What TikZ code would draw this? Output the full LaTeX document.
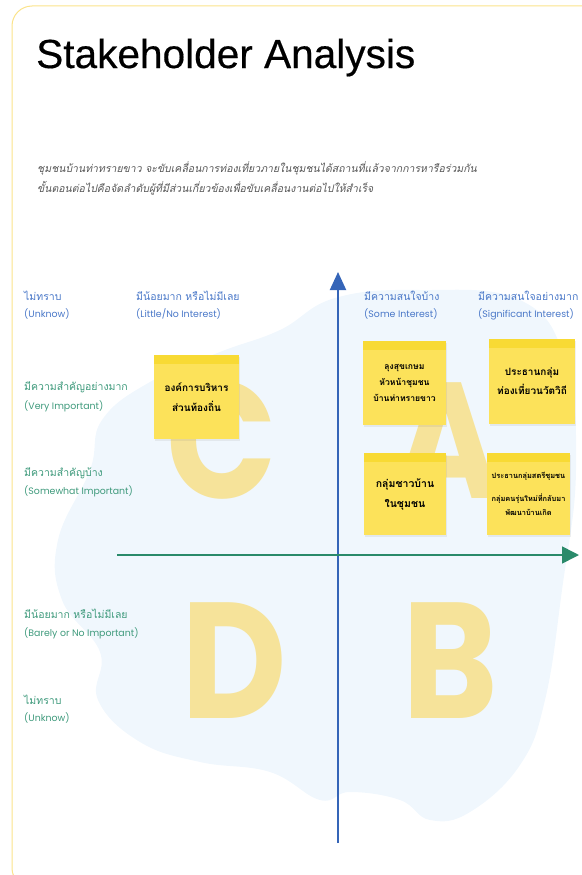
\documentclass[tikz,border=0pt]{standalone}
\usepackage{fontspec}
\usetikzlibrary{arrows.meta,shadows}
\setmainfont{Poppins}
\newfontfamily\titlefont[FakeBold=0.4]{Liberation Sans}
\newfontfamily\thaifont[Script=Thai]{Loma}
\definecolor{framey}{HTML}{FBE38A}
\definecolor{axisblue}{HTML}{3565B8}
\definecolor{axisgreen}{HTML}{2A8A6A}
\definecolor{headblue}{HTML}{4A78C8}
\definecolor{rowgreen}{HTML}{3F9A7C}
\definecolor{blobblue}{HTML}{F0F7FD}
\definecolor{letteryel}{HTML}{F6E39A}
\definecolor{notey}{HTML}{FCE25A}
\definecolor{noteband}{HTML}{F8DA34}
\definecolor{subgray}{HTML}{555555}
\tikzset{
  colth/.style={anchor=base west,inner sep=0pt,text=headblue,
    font=\thaifont\fontsize{10.5}{12}\selectfont},
  colen/.style={anchor=base west,inner sep=0pt,text=headblue,
    font=\fontsize{9.4}{12}\selectfont},
  rowth/.style={colth,text=rowgreen},
  rowen/.style={colen,text=rowgreen},
  subline/.style={anchor=base west,inner sep=0pt,text=subgray,
    font=\thaifont\itshape\fontsize{10.5}{12}\selectfont},
  bigletter/.style={anchor=base,inner sep=0pt,text=letteryel,xscale=0.88,
    font=\fontsize{165}{165}\selectfont\bfseries},
  stickynote/.style={fill=notey,inner sep=2pt,align=center,
    font=\thaifont\bfseries\fontsize{10}{20}\selectfont,
    drop shadow={opacity=0.12,shadow xshift=1pt,shadow yshift=-1.5pt},
    path picture={\fill[noteband] (path picture bounding box.north west)
      rectangle ([yshift=-9pt]path picture bounding box.north east);}}
}
\begin{document}
\begin{tikzpicture}[x=1pt,y=-1pt]
\useasboundingbox (0,0) rectangle (581,875);
% frame
\draw[framey,line width=1pt,rounded corners=20pt] (12,6) rectangle (640,888);
% title and subtitle
\node[anchor=base west,inner sep=0pt,font=\titlefont\fontsize{40.6}{40}\selectfont] (title) at (36,68) {Stakeholder Analysis};
\node[subline] (sub1) at (37,172) {ชุมชนบ้านท่าทรายขาว จะขับเคลื่อนการท่องเที่ยวภายในชุมชนได้สถานที่แล้วจากการหารือร่วมกัน};
\node[subline] (sub2) at (37,192) {ขั้นตอนต่อไปคือจัดลำดับผู้ที่มีส่วนเกี่ยวข้องเพื่อขับเคลื่อนงานต่อไปให้สำเร็จ};
% background blob
\fill[blobblue] plot[smooth cycle,tension=0.7] coordinates {
  (280,330) (335,298) (420,290) (520,300) (565,360) (576,470) (562,590)
  (545,700) (520,765) (470,812) (430,820) (400,800) (350,792) (320,800)
  (270,772) (200,762) (140,742) (98,700) (100,652) (62,600) (58,540)
  (90,470) (102,420) (150,382) (220,352)};
% quadrant letters
\node[bigletter] (letC) at (222,498) {C};
\node[bigletter] (letA) at (447,498) {A};
\node[bigletter] (letD) at (234,718) {D};
\node[bigletter] (letB) at (450,718) {B};
% axes
\coordinate (vbot) at (338,843);
\coordinate (vtop) at (338,272);
\coordinate (hleft) at (117,555);
\coordinate (hright) at (579,555);
\draw[axisblue,line width=2pt,-{Triangle[length=18pt,width=16pt]}] (vbot) -- (vtop);
\draw[axisgreen,line width=1.6pt,-{Triangle[length=17pt,width=17pt]}] (hleft) -- (hright);
% column headings
\node[colth] (colU) at (24,300) {ไม่ทราบ};
\node[colen] (colUen) at (24,317) {(Unknow)};
\node[colth] (colL) at (136,300) {มีน้อยมาก หรือไม่มีเลย};
\node[colen] (colLen) at (136,317) {(Little/No Interest)};
\node[colth] (colS) at (364,300) {มีความสนใจบ้าง};
\node[colen] (colSen) at (364,317) {(Some Interest)};
\node[colth] (colG) at (478,300) {มีความสนใจอย่างมาก};
\node[colen] (colGen) at (478,317) {(Significant Interest)};
% row headings
\node[rowth] (rowV) at (24,390) {มีความสำคัญอย่างมาก};
\node[rowen] (rowVen) at (24,409) {(Very Important)};
\node[rowth] (rowW) at (24,476) {มีความสำคัญบ้าง};
\node[rowen] (rowWen) at (24,494) {(Somewhat Important)};
\node[rowth] (rowB) at (24,618) {มีน้อยมาก หรือไม่มีเลย};
\node[rowen] (rowBen) at (24,636) {(Barely or No Important)};
\node[rowth] (rowN) at (24,704) {ไม่ทราบ};
\node[rowen] (rowNen) at (24,721) {(Unknow)};
% sticky notes
\node[stickynote,minimum width=85pt,minimum height=84pt] (noteC) at (196.5,397) {องค์การบริหาร\\ส่วนท้องถิ่น};
\node[stickynote,minimum width=83pt,minimum height=84pt,font=\thaifont\bfseries\fontsize{8.6}{16}\selectfont] (noteA1) at (404.5,383) {ลุงสุขเกษม\\หัวหน้าชุมชน\\บ้านท่าทรายขาว};
\node[stickynote,minimum width=86pt,minimum height=85pt,font=\thaifont\bfseries\fontsize{10}{19}\selectfont] (noteA2) at (532,381.5) {ประธานกลุ่ม\\ท่องเที่ยวนวัตวิถี};
\node[stickynote,minimum width=82pt,minimum height=82pt,font=\thaifont\bfseries\fontsize{10.5}{20}\selectfont] (noteA3) at (405,494) {กลุ่มชาวบ้าน\\ในชุมชน};
\node[stickynote,minimum width=83pt,minimum height=82pt,font=\thaifont\bfseries\fontsize{7.4}{14.5}\selectfont] (noteA4) at (528.5,494) {ประธานกลุ่มสตรีชุมชน\\[8pt]กลุ่มคนรุ่นใหม่ที่กลับมา\\พัฒนาบ้านเกิด};
\end{tikzpicture}
\end{document}
